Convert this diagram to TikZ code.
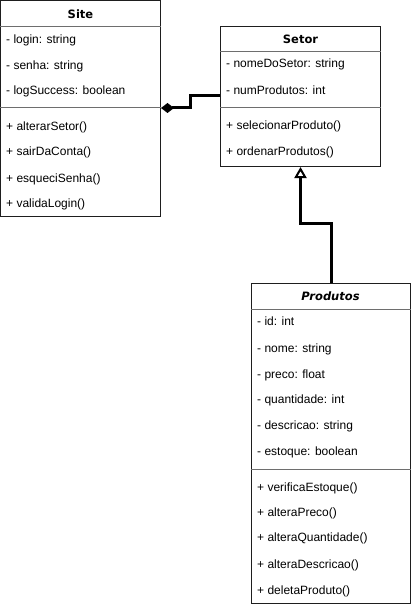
\documentclass[tikz,border=0pt]{standalone}
\usepackage{fontspec}
\setmainfont{Liberation Sans}
\newfontfamily\fonteTitulo{DejaVu Sans}
\usepackage{xcolor}
\usepackage{tikz}
\usetikzlibrary{arrows.meta,positioning}
\definecolor{CinzaBorda}{RGB}{30,30,30}
\definecolor{CinzaLinha}{RGB}{110,110,110}
\tikzset{
  classe/.style={draw=CinzaBorda,line width=1pt,fill=white,anchor=north west,inner sep=0pt},
  titulo/.style={font=\fonteTitulo\fontsize{11.5}{13}\selectfont\bfseries},
  membro/.style={anchor=west,inner sep=0pt,text height=9pt,text depth=3pt,font=\fontsize{12}{14}\selectfont},
  divisao/.style={CinzaLinha,line width=1pt},
  composicao/.style={line width=3pt,-{Diamond[length=13pt,width=10pt]}},
  heranca/.style={line width=3pt,-{Triangle[open,length=11pt,width=12pt,line width=2pt]}}
}

\begin{document}
\begin{tikzpicture}[x=1pt,y=-1pt]
  \useasboundingbox (0,0) rectangle (412,607);
  % Site
  \node[classe,minimum width=160pt,minimum height=215pt] (site) at (0,0.5) {};
  \node[titulo] (siteTitulo) at (80.5,14) {Site};
  \draw[divisao] (site.west |- 0,27) -- (site.east |- 0,27);
  \node[membro] (siteA1) at (6,41) {- login: string};
  \node[membro] (siteA2) at (6,67) {- senha: string};
  \node[membro] (siteA3) at (6,92) {- logSuccess: boolean};
  \draw[divisao] (site.west |- 0,108) -- (site.east |- 0,108);
  \node[membro] (siteM1) at (6,127) {+ alterarSetor()};
  \node[membro] (siteM2) at (6,152) {+ sairDaConta()};
  \node[membro] (siteM3) at (6,179) {+ esqueciSenha()};
  \node[membro] (siteM4) at (6,204) {+ validaLogin()};
  % Setor
  \node[classe,minimum width=160pt,minimum height=140pt] (setor) at (220,26) {};
  \node[titulo] (setorTitulo) at (300.5,39) {Setor};
  \draw[divisao] (setor.west |- 0,52) -- (setor.east |- 0,52);
  \node[membro] (setorA1) at (226,65) {- nomeDoSetor: string};
  \node[membro] (setorA2) at (226,92) {- numProdutos: int};
  \draw[divisao] (setor.west |- 0,108) -- (setor.east |- 0,108);
  \node[membro] (setorM1) at (226,126) {+ selecionarProduto()};
  \node[membro] (setorM2) at (226,152) {+ ordenarProdutos()};
  % Produtos
  \node[classe,minimum width=159pt,minimum height=320pt] (produtos) at (251,283) {};
  \node[titulo] (produtosTitulo) at (330.5,296) {\itshape Produtos};
  \draw[divisao] (produtos.west |- 0,309) -- (produtos.east |- 0,309);
  \node[membro] (produtosA1) at (257,322) {- id: int};
  \node[membro] (produtosA2) at (257,349) {- nome: string};
  \node[membro] (produtosA3) at (257,375) {- preco: float};
  \node[membro] (produtosA4) at (257,400) {- quantidade: int};
  \node[membro] (produtosA5) at (257,426) {- descricao: string};
  \node[membro] (produtosA6) at (257,452) {- estoque: boolean};
  \draw[divisao] (produtos.west |- 0,469) -- (produtos.east |- 0,469);
  \node[membro] (produtosM1) at (257,488) {+ verificaEstoque()};
  \node[membro] (produtosM2) at (257,513) {+ alteraPreco()};
  \node[membro] (produtosM3) at (257,538) {+ alteraQuantidade()};
  \node[membro] (produtosM4) at (257,565) {+ alteraDescricao()};
  \node[membro] (produtosM5) at (257,591) {+ deletaProduto()};
  % ligacoes
  \coordinate (dobraComp) at (190,96);
  \draw[composicao] (setor.west |- dobraComp) -- (dobraComp) -- (dobraComp |- 0,108) -- (site.east |- 0,108);
  \coordinate (dobraHer) at (0,223);
  \draw[heranca] (produtos.north) -- (produtos.north |- dobraHer) -- (setor.south |- dobraHer) -- (setor.south);
\end{tikzpicture}
\end{document}
